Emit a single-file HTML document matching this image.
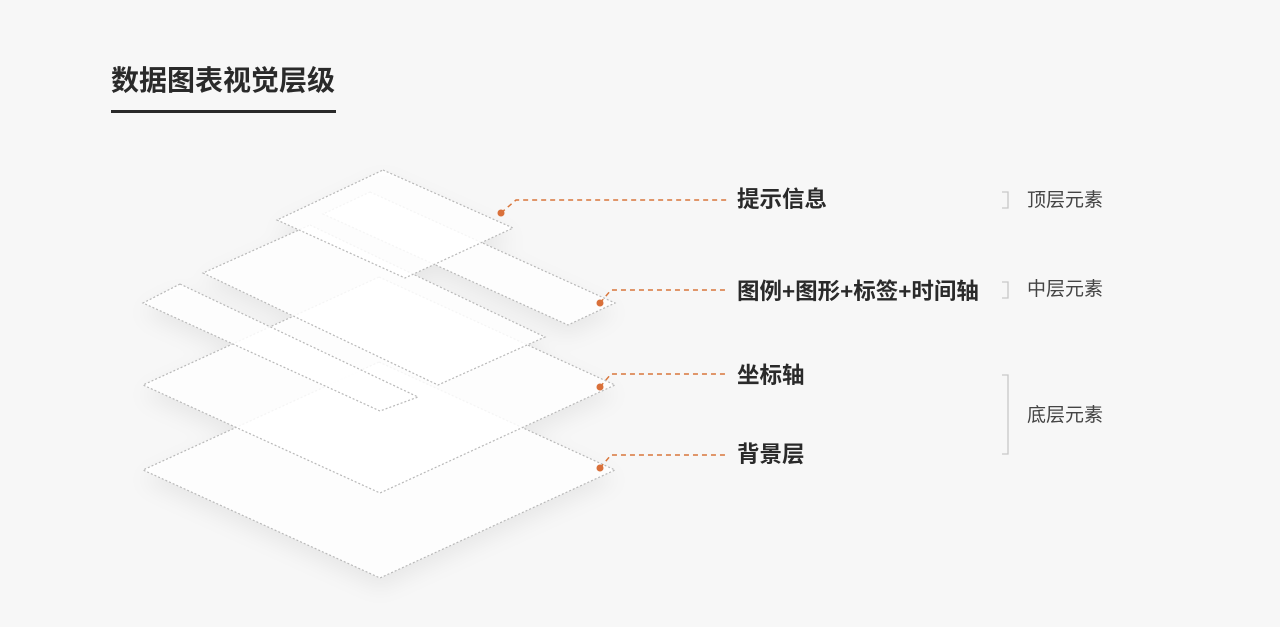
<!DOCTYPE html>
<html><head><meta charset="utf-8"><style>
body{margin:0;width:1280px;height:627px;background:#f7f7f7;overflow:hidden;font-family:"Liberation Sans","Noto Sans CJK SC",sans-serif;position:relative}
.t{position:absolute;white-space:nowrap;color:#222}
.l{font-size:22.5px;line-height:28px;font-weight:bold;color:#2a2a2a}
.r{font-size:19px;line-height:24px;color:#444}
</style></head><body>
<div class="t" style="left:111px;top:62px;font-size:28px;line-height:38px;color:#2a2a2a;font-weight:bold">数据图表视觉层级</div>
<div style="position:absolute;left:111px;top:110px;width:225px;height:3px;background:#2a2a2a"></div>
<svg width="1280" height="627" style="position:absolute;left:0;top:0">
<defs><filter id="s" x="-20%" y="-20%" width="140%" height="160%"><feDropShadow dx="0" dy="10" stdDeviation="10" flood-color="#000" flood-opacity="0.07"/></filter></defs>
<g stroke="#b8b8b8" stroke-width="1.2" stroke-dasharray="2 2" fill="#fff" fill-opacity="0.85" filter="url(#s)">
<polygon points="379,362 615,470 380,578 143,470"/>
<polygon points="379,277 615,385 380,493 143,385"/>
<polygon points="180,284 418,397 380,411 143,303"/>
<polygon points="310,225 545,337 438,385 203,273"/>
<polygon points="370,192 615,303 568,325 323,214"/>
<polygon points="383,170 513,228 405,278 277,220"/>
</g>
<g stroke="#d9773c" stroke-width="1.5" stroke-dasharray="5 4" fill="none">
<path d="M501,213 L516,200 L728,200"/>
<path d="M600,303 L611,290 L728,290"/>
<path d="M600,387 L611,374 L728,374"/>
<path d="M600,468 L611,455 L728,455"/>
</g>
<g fill="#d9703a">
<circle cx="501" cy="213" r="3.5"/><circle cx="600" cy="303" r="3.5"/><circle cx="600" cy="387" r="3.5"/><circle cx="600" cy="468" r="3.5"/>
</g>
<g stroke="#c8c8c8" stroke-width="1.3" fill="none">
<path d="M1002,192 H1008 V208 H1002"/>
<path d="M1002,282 H1008 V298 H1002"/>
<path d="M1002,375 H1008 V454 H1002"/>
</g>
</svg>
<div class="t l" style="left:737px;top:186px">提示信息</div>
<div class="t l" style="left:737px;top:278px">图例+图形+标签+时间轴</div>
<div class="t l" style="left:737px;top:362px">坐标轴</div>
<div class="t l" style="left:737px;top:441px">背景层</div>
<div class="t r" style="left:1027px;top:189px">顶层元素</div>
<div class="t r" style="left:1027px;top:278px">中层元素</div>
<div class="t r" style="left:1027px;top:404px">底层元素</div>
</body></html>
